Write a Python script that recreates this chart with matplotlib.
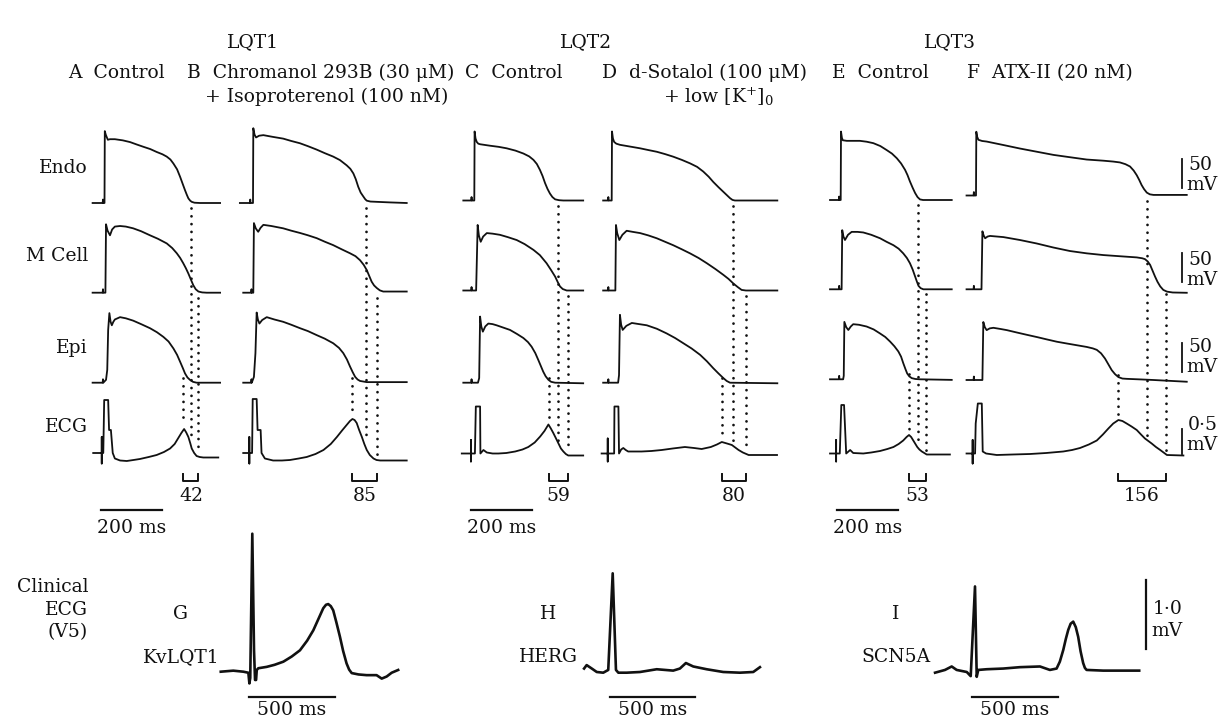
import matplotlib
matplotlib.use("Agg")
import matplotlib.pyplot as plt
from matplotlib.lines import Line2D
from matplotlib.transforms import blended_transform_factory

plt.rcParams['font.family'] = ['DejaVu Serif']
plt.rcParams['mathtext.fontset'] = 'dejavuserif'

# ---------------- data: action potentials, (t ms, V mV) samples ----------------
ENDO_A = [(-39,-85),(-6,-85),(-5,-79),(-4,-85),(0,-85),(1,39),(4,33),(7,29),(11,24),(18,25),(34,25),(60,23),(84,20),(105,16),(127,12),(150,8),(171,3),(190,-1),(204,-5),(216,-10),(226,-17),(238,-27),(248,-40),(257,-53),(264,-63),(270,-71),(275,-77),(281,-81),(286,-83),(295,-84.5),(313,-85),(379,-85)]
M_A = [(-39,-85),(-6,-85),(-5,-79),(-4,-85),(3,-85),(5,33),(10,22),(18,14),(25,24),(34,29),(51,30),(70,29),(94,26),(120,21),(149,14),(175,8),(204,0),(222,-8),(237,-17),(248,-25),(258,-34),(267,-43),(275,-52),(283,-62),(291,-72),(299,-79),(308,-83),(320,-84.5),(335,-85),(379,-85)]
EPI_A = [(-39,-85),(-6,-85),(-5,-79),(-4,-85),(5,-80),(9,-63),(12,6),(16,35),(20,20),(24,14),(29,20),(34,24),(51,28),(70,26),(94,22),(120,16),(149,9),(172,2),(193,-6),(210,-14),(226,-26),(238,-37),(248,-49),(257,-60),(264,-69),(272,-76),(280,-80),(290,-83.5),(302,-85),(379,-85)]

ENDO_B = [(-43,-85),(-10,-85),(-9,-79),(-8,-85),(0,-85),(1,44),(5,33),(10,28),(20,31),(34,32),(65,29),(99,26),(125,22),(154,18),(180,13),(209,7),(235,1),(263,-5),(285,-11),(307,-20),(319,-26),(329,-34),(337,-44),(345,-57),(353,-67),(362,-74),(368,-78.5),(373,-81),(385,-82.5),(406,-83),(450,-84),(504,-85)]
M_B = [(-32,-85),(-6,-85),(-5,-79),(-4,-85),(1,-85),(3,35),(9,26),(17,20),(25,27),(34,32),(60,30),(99,26),(125,22),(154,18),(180,14),(209,9),(235,3),(263,-3),(290,-10),(318,-17),(336,-22),(351,-29),(363,-37),(373,-46),(381,-56),(389,-66),(397,-72.5),(406,-77),(416,-81),(427,-83),(504,-83)]
EPI_B = [(-32,-85),(-6,-85),(-5,-79),(-4,-85),(3,-75),(8,-34),(12,36),(16,24),(21,17),(30,23),(45,28),(70,24),(99,20),(125,15),(154,9),(180,4),(209,-3),(235,-9),(263,-17),(282,-25),(296,-34),(308,-45),(318,-57),(327,-67),(335,-75),(343,-79.5),(351,-82),(373,-84),(504,-84)]

ENDO_C = [(-36,-85),(-10,-85),(-9,-79),(-8,-85),(0,-85),(1,34),(4,22),(8,16),(13,13),(19,12),(51,9.5),(80,7.5),(106,5),(135,1),(161,-4),(180,-9),(194,-15),(205,-22),(215,-32),(224,-43),(232,-55),(240,-65),(248,-73),(256,-79),(265,-83),(278,-84.5),(292,-85),(357,-85)]
M_C = [(-36,-85),(-10,-85),(-9,-79),(-8,-85),(6,-85),(11,28),(15,10),(21,-1),(29,8),(41,14),(60,13),(84,11),(110,7),(139,2),(165,-5),(194,-15),(215,-24),(237,-38),(252,-50),(265,-61),(274,-71),(281,-78),(290,-82.5),(303,-85),(357,-85)]
EPI_C = [(-36,-85),(-10,-85),(-9,-79),(-8,-85),(12,-85),(16,-77),(19,29),(23,12),(28,3),(36,12),(46,17),(60,16),(73,14),(95,10),(117,6),(140,-1),(161,-8),(176,-15),(188,-23),(200,-34),(210,-46),(218,-56),(226,-66),(234,-74),(243,-80),(252,-83.5),(265,-85),(357,-86)]

ENDO_D = [(-28,-85),(-12,-85),(-11,-79),(-10,-85),(0,-85),(1,34),(4,22),(8,16),(15,13),(27,11),(60,8),(93,5),(120,2),(148,-1),(175,-5),(202,-9.5),(230,-15),(257,-21),(280,-27),(300,-35),(318,-44),(333,-53),(350,-62),(366,-70),(378,-76),(388,-81),(396,-84),(404,-85),(543,-85)]
M_D = [(-28,-85),(-12,-85),(-11,-79),(-10,-85),(12,-85),(14,28),(18,14),(25,2),(35,11),(49,18),(70,16),(93,14),(120,10),(148,5),(175,-1),(202,-7),(230,-14),(257,-21),(285,-29),(312,-38),(340,-48),(366,-58),(383,-65),(399,-73),(413,-79),(426,-84),(440,-85),(543,-85)]
EPI_D = [(-28,-85),(-12,-85),(-11,-79),(-10,-85),(21,-85),(24,-72),(27,32),(31,15),(36,6),(48,13),(66,18),(90,16),(115,14),(148,8),(180,0),(208,-8),(235,-17),(262,-26),(290,-37),(312,-48),(333,-60),(350,-69),(366,-77),(377,-82),(388,-85),(543,-86)]

ENDO_E = [(-35,-85),(-6,-85),(-5,-79),(-4,-85),(0,-85),(1,33),(4,22),(7,18),(20,17),(63,17),(85,15.5),(107,13),(130,8),(151,1),(168,-5),(184,-13),(198,-22),(211,-33),(219,-42),(227,-53),(236,-64),(244,-73),(252,-80),(260,-84),(270,-85),(364,-85)]
M_E = [(-35,-85),(-6,-85),(-5,-79),(-4,-85),(3,-85),(5,17),(9,6),(14,0),(24,9),(36,14),(55,14),(74,13),(100,9),(129,3),(150,-3),(173,-9),(190,-15),(205,-23),(217,-31),(227,-40),(236,-51),(244,-63),(250,-72),(255,-79),(262,-83),(271,-85),(364,-85)]
EPI_E = [(-35,-85),(-6,-85),(-5,-79),(-4,-85),(8,-85),(10,-79),(12,14),(18,5),(25,0),(33,6),(41,10),(60,9),(85,6),(108,1),(129,-6),(146,-12),(162,-20),(176,-28),(189,-37),(198,-46),(205,-57),(212,-67),(218,-75),(225,-80),(233,-83),(245,-84.5),(260,-85),(364,-86)]

ENDO_F = [(-31,-85),(-8,-85),(-7,-79),(-6,-85),(0,-85),(1,25),(4,16),(8,11),(20,9),(35,8),(90,2),(144,-4),(199,-9.5),(254,-15),(308,-19),(363,-23),(418,-25),(450,-26.5),(472,-28),(490,-31),(505,-35),(517,-42),(527,-50),(535,-58),(543,-67),(551,-74),(560,-80),(570,-83),(582,-84),(691,-84)]
M_F = [(-31,-85),(-8,-85),(-7,-79),(-6,-85),(18,-85),(21,15),(25,8),(30,3),(38,6),(46,7),(90,5),(144,0),(199,-6),(254,-13),(308,-19),(363,-23),(418,-26),(472,-28),(527,-30),(545,-31.5),(554,-33),(563,-37),(571,-43),(579,-53),(587,-63),(595,-72),(604,-80),(614,-86),(626,-89),(645,-90.5),(691,-91)]
EPI_F = [(-31,-85),(-8,-85),(-7,-79),(-6,-85),(21,-85),(24,15),(29,6),(35,1),(45,4),(57,5),(80,3),(101,1),(133,-3),(166,-7),(200,-11),(232,-15),(265,-19),(297,-22),(330,-25),(363,-28),(383,-30.5),(396,-33),(410,-39),(423,-48),(434,-58),(445,-68),(456,-75),(467,-80),(480,-82.5),(494,-83),(540,-84),(582,-85),(691,-88)]

# ---------------- data: transmural ECGs, (t ms, mV) ----------------
ECG_A = [(-37,0.04),(-9,0.04),(-9,0.36),(-9,-0.17),(-9,0.04),(-4,0.04),(-1,1.1),(12,1.1),(15,0.5),(21,0.5),(27,0.04),(34,-0.07),(51,-0.11),(73,-0.12),(95,-0.1),(116,-0.08),(145,-0.04),(171,0),(195,0.06),(215,0.13),(230,0.22),(242,0.34),(252,0.44),(261,0.52),(268,0.45),(275,0.36),(281,0.24),(286,0.13),(294,0.04),(302,-0.02),(312,-0.04),(324,-0.05),(373,-0.05)]
ECG_B = [(-32,0.04),(-12,0.04),(-12,0.36),(-12,-0.17),(-12,0.04),(-3,0.04),(-1,1.12),(12,1.12),(15,0.5),(25,0.5),(28,0.04),(39,-0.07),(66,-0.11),(95,-0.11),(121,-0.1),(150,-0.07),(176,-0.04),(205,0.02),(231,0.1),(255,0.22),(275,0.36),(292,0.49),(307,0.6),(318,0.68),(326,0.72),(333,0.7),(340,0.64),(348,0.5),(357,0.36),(365,0.22),(373,0.1),(383,0.0),(395,-0.07),(405,-0.1),(417,-0.11),(504,-0.11)]
ECG_C = [(-41,0),(-11,0),(-11,0.27),(-11,-0.16),(-11,0),(2,0),(5,0.94),(19,0.94),(20,0),(30,0.07),(41,0.02),(60,0),(79,0),(105,0.01),(134,0.04),(158,0.08),(177,0.13),(198,0.22),(216,0.34),(230,0.45),(243,0.58),(251,0.5),(259,0.41),(268,0.3),(276,0.2),(284,0.1),(292,0.04),(300,-0.01),(308,-0.04),(357,-0.04)]
ECG_D = [(-33,0),(-13,0),(-13,0.3),(-13,-0.16),(-13,0),(8,0),(9,0.94),(22,0.94),(24,0),(31,0.08),(38,0.11),(46,0.07),(54,0.04),(98,0.04),(130,0.05),(164,0.07),(200,0.1),(240,0.13),(270,0.11),(295,0.09),(325,0.13),(345,0.18),(361,0.23),(378,0.2),(394,0.17),(405,0.12),(416,0.07),(430,0.02),(449,-0.03),(542,-0.03)]
ECG_E = [(-35,0),(-15,0),(-15,0.27),(-15,-0.16),(-15,0),(-3,0),(2,0.97),(11,0.97),(18,0),(31,0.07),(41,0.01),(74,0),(100,0.02),(129,0.05),(153,0.09),(173,0.13),(190,0.19),(205,0.26),(216,0.33),(224,0.37),(231,0.33),(238,0.26),(245,0.19),(251,0.13),(258,0.08),(266,0.04),(274,0.01),(282,-0.02),(358,-0.02)]
ECG_F = [(-31,0),(-11,0),(-11,0.27),(-11,-0.2),(-11,0),(-3,0),(-1,0.6),(6,1.0),(19,1.0),(22,0.04),(33,0),(68,-0.03),(120,-0.02),(177,-0.01),(230,0.01),(286,0.04),(315,0.07),(341,0.11),(370,0.18),(396,0.26),(416,0.38),(434,0.5),(450,0.6),(467,0.67),(480,0.65),(494,0.6),(510,0.54),(527,0.47),(541,0.38),(554,0.3),(565,0.25),(576,0.2),(590,0.13),(604,0.07),(615,0.02),(626,-0.03),(680,-0.04)]

# repolarisation times marked by the dotted lines (ms) and Tpeak-Tend labels
EPI_END = [259, 326, 245, 362, 225, 464]
ENDO_END = [282, 371, 276, 398, 255, 562]
M_END = [308, 407, 306, 441, 279, 622]
TPE_LABELS = ['42', '85', '59', '80', '53', '156']

# ---------------- data: clinical ECGs, (t ms, mV) ----------------
CLIN_G = [(-184,0),(-111,0.015),(-52,0),(-23,-0.015),(-17,-0.17),(-12,-0.09),(0,2.0),(10,0.31),(16,-0.12),(22,-0.12),(26,0.025),(35,0.05),(84,0.07),(130,0.1),(181,0.145),(230,0.22),(278,0.31),(320,0.45),(356,0.6),(385,0.76),(414,0.92),(430,0.97),(443,0.98),(458,0.95),(472,0.89),(490,0.72),(511,0.51),(530,0.3),(550,0.12),(565,0.03),(580,-0.02),(620,-0.04),(667,-0.05),(725,-0.05),(755,-0.1),(784,-0.07),(813,-0.015),(851,0.025)]
CLIN_H = [(-167,0.05),(-152,0.1),(-122,0.05),(-93,0),(-55,-0.01),(-26,0.03),(0,1.43),(19,0.03),(33,-0.01),(82,-0.01),(159,0),(257,0.04),(353,0.02),(392,0.05),(427,0.13),(470,0.08),(548,0.04),(645,0),(742,-0.01),(820,0),(859,0.07)]
CLIN_I = [(-233,-0.01),(-175,0.03),(-136,0.08),(-107,0.03),(-48,0),(-25,-0.06),(0,1.24),(10,-0.07),(19,0.03),(68,0.04),(165,0.05),(262,0.07),(379,0.08),(437,0.03),(476,0.05),(495,0.15),(515,0.32),(530,0.48),(544,0.61),(558,0.7),(573,0.73),(588,0.65),(602,0.51),(616,0.3),(631,0.13),(641,0.06),(651,0.03),(748,0.02),(958,0.02)]

COLUMN_TITLES = ['A  Control', 'B  Chromanol 293B (30 μM)', 'C  Control',
                 'D  d-Sotalol (100 μM)', 'E  Control', 'F  ATX-II (20 nM)']
COLUMN_SUBTITLES = ['', '+ Isoproterenol (100 nM)', '', '+ low [K$^{+}$]$_0$', '', '']
SYNDROMES = ['LQT1', 'LQT2', 'LQT3']
ROW_LABELS = ['Endo', 'M Cell', 'Epi', 'ECG']
CLIN_LETTERS = ['G', 'H', 'I']
CLIN_GENES = ['KvLQT1', 'HERG', 'SCN5A']

# ---------------- layout (pixels) ----------------
W, H = 1222, 720
PX_MS, PX_MV, PX_ECG = 0.305, 0.58, 50.0
PX_MS_C, PX_MV_C = 0.1714, 69.0
COL_X0 = [104.5, 253, 474.3, 611.7, 840.7, 976]
COL_TLIM = [(-45, 385), (-45, 510), (-45, 360), (-35, 545), (-40, 370), (-35, 700)]
ROW_BASE = [[203, 203, 200.5, 200.5, 200, 195.5],
            [292.7, 292.7, 290.5, 290.5, 289.3, 289.3],
            [382.7, 382.7, 382.7, 382.7, 379.3, 380],
            [455, 455, 453.5, 453.5, 453.5, 453.5]]
EPI_BOT = [423, 415, 420, 433, 432, 415]
ENDO_BOT = [440, 438, 443, 443, 445, 440]
M_BOT = [453, 455, 452, 452, 451, 452]
CLIN_X0 = [252.3, 612.7, 975]
CLIN_Y0 = [671.7, 672, 672]

TRACES = [
    [ENDO_A, ENDO_B, ENDO_C, ENDO_D, ENDO_E, ENDO_F],
    [M_A, M_B, M_C, M_D, M_E, M_F],
    [EPI_A, EPI_B, EPI_C, EPI_D, EPI_E, EPI_F],
    [ECG_A, ECG_B, ECG_C, ECG_D, ECG_E, ECG_F],
]
CLIN = [CLIN_G, CLIN_H, CLIN_I]

INK = '#111111'
FS = 13.5

fig = plt.figure(figsize=(W / 100, H / 100), dpi=100)
over = fig.add_axes([0, 0, 1, 1])
over.set_xlim(0, W)
over.set_ylim(H, 0)
over.set_autoscale_on(False)
over.axis('off')


def make_ax(x0, ybase, xlim, ylim, sx, sy, v0):
    left = x0 + xlim[0] * sx
    width = (xlim[1] - xlim[0]) * sx
    top = ybase - (ylim[1] - v0) * sy
    height = (ylim[1] - ylim[0]) * sy
    ax = fig.add_axes([left / W, 1 - (top + height) / H, width / W, height / H])
    ax.set_xlim(*xlim)
    ax.set_ylim(*ylim)
    ax.axis('off')
    return ax


def txt(x, y, s, ha='center', va='center', size=FS):
    over.text(x, y, s, ha=ha, va=va, fontsize=size, color=INK)


# ---- AP + ECG panels ----
col_axes = []
for r in range(4):
    for c in range(6):
        if r < 3:
            ax = make_ax(COL_X0[c], ROW_BASE[r][c], COL_TLIM[c], (-100, 50), PX_MS, PX_MV, -85)
        else:
            ax = make_ax(COL_X0[c], ROW_BASE[r][c], COL_TLIM[c], (-0.3, 1.3), PX_MS, PX_ECG, 0)
        t, v = zip(*TRACES[r][c])
        ax.plot(t, v, color=INK, lw=1.3, clip_on=False, solid_joinstyle='round')
        if r == 0:
            col_axes.append(ax)
        if c == 5:
            if r < 3:
                ax.plot([675, 675], [-72, -22], color=INK, lw=1.3, clip_on=False)
            else:
                ax.plot([675, 675], [0.0, 0.5], color=INK, lw=1.3, clip_on=False)

# ---- dotted repolarisation lines, Tp-e brackets, time bars ----
dot_style = dict(color=INK, lw=2.0, linestyle=(0, (0.01, 2.8)), dash_capstyle='round')
for c in range(6):
    tr = blended_transform_factory(col_axes[c].transData, over.transData)
    over.add_line(Line2D([ENDO_END[c]] * 2, [ROW_BASE[0][c] + 5, ENDO_BOT[c]], transform=tr, **dot_style))
    over.add_line(Line2D([M_END[c]] * 2, [ROW_BASE[1][c] + 5, M_BOT[c]], transform=tr, **dot_style))
    over.add_line(Line2D([EPI_END[c]] * 2, [ROW_BASE[2][c] - 5, EPI_BOT[c]], transform=tr, **dot_style))
    over.add_line(Line2D([EPI_END[c], EPI_END[c], M_END[c], M_END[c]], [474, 481, 481, 474],
                         transform=tr, color=INK, lw=1.4))
    over.text((EPI_END[c] + M_END[c]) / 2, 496, TPE_LABELS[c], transform=tr,
              ha='center', va='center', fontsize=FS, color=INK)
    if c % 2 == 0:
        over.add_line(Line2D([-12, 188], [510, 510], transform=tr, color=INK, lw=1.6))
        over.text(88, 528, '200 ms', transform=tr, ha='center', va='center', fontsize=FS, color=INK)

# ---- clinical ECGs ----
for k in range(3):
    ax = make_ax(CLIN_X0[k], CLIN_Y0[k], (-250, 980), (-0.5, 2.1), PX_MS_C, PX_MV_C, 0)
    t, v = zip(*CLIN[k])
    ax.plot(t, v, color=INK, lw=1.9, clip_on=False, solid_joinstyle='round')
    ax.plot([-18, 482], [-0.36, -0.36], color=INK, lw=1.6, clip_on=False)
    ax.text(232, -0.55, '500 ms', ha='center', va='center', fontsize=FS, color=INK)
    if k == 2:
        ax.plot([997, 997], [0.33, 1.33], color=INK, lw=1.6, clip_on=False)

# ---- texts ----
for s, x in zip(SYNDROMES, [253, 586, 950]):
    txt(x, 42, s)
title_x = [68, 187, 465, 602, 832, 967]
for s, x in zip(COLUMN_TITLES, title_x):
    txt(x, 73, s, ha='left')
txt(327, 97, COLUMN_SUBTITLES[1])
txt(718, 97, COLUMN_SUBTITLES[3])
for s, y in zip(ROW_LABELS, [168, 256, 348, 427]):
    txt(88, y, s, ha='right')
for y0 in [165, 260, 347]:
    txt(1188, y0, '50', ha='left')
    txt(1186, y0 + 20, 'mV', ha='left')
txt(1188, 425, '0·5', ha='left')
txt(1186, 445, 'mV', ha='left')
txt(1153, 609, '1·0', ha='left')
txt(1151, 631, 'mV', ha='left')
txt(88, 587, 'Clinical', ha='right')
txt(88, 610, 'ECG', ha='right')
txt(88, 632, '(V5)', ha='right')
for L, g, x in zip(CLIN_LETTERS, CLIN_GENES, [181, 548, 896]):
    txt(x, 614, L)
    txt(x, 657, g)

fig.savefig('out.png', dpi=100)
